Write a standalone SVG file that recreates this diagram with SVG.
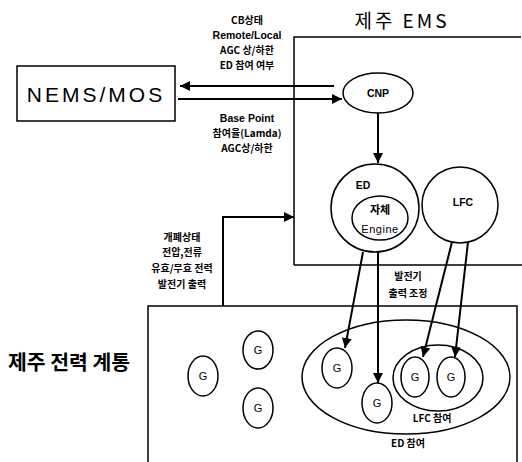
<svg xmlns="http://www.w3.org/2000/svg" width="522" height="462" viewBox="0 0 522 462">
<defs>
<marker id="ah" viewBox="0 0 10 10" refX="10" refY="5" markerWidth="10" markerHeight="10" markerUnits="userSpaceOnUse" orient="auto">
<path d="M0,0 L10,5 L0,10 z" fill="#000"/>
</marker>
</defs>
<style>
.box{fill:#fff;stroke:#000;stroke-width:1.5}
.sh{fill:none;stroke:#000;stroke-width:1.5}
.ln{fill:none;stroke:#000;stroke-width:2}
.t{font-family:"Liberation Sans","Noto Sans CJK KR",sans-serif;fill:#000;text-anchor:middle}
.s{font-size:10.5px;font-weight:bold}
.k{font-family:"Noto Sans CJK KR","Liberation Sans",sans-serif;fill:#000;text-anchor:middle;font-weight:bold;font-size:10px}
.g{font-size:11px}
</style>
<rect width="522" height="462" fill="#fff"/>

<g id="ems-box">
<path class="sh" d="M294,265 V37 H521 M294,265 H522"/>
<text class="k" x="402" y="28" style="font-size:19px;font-weight:normal" letter-spacing="3">제주 EMS</text>
</g>

<g id="power-system-box">
<path class="sh" d="M148,462 V306 H517 V462"/>
<text class="k" x="69" y="370" style="font-size:20px" textLength="122" lengthAdjust="spacingAndGlyphs">제주 전력 계통</text>
</g>

<g id="nems">
<rect class="box" x="17" y="66" width="158" height="55"/>
<text class="t" x="96" y="102" style="font-size:21px" letter-spacing="3">NEMS/MOS</text>
</g>

<g id="cnp">
<ellipse class="sh" cx="378" cy="93" rx="35" ry="20"/>
<text class="t s" x="378" y="97">CNP</text>
</g>

<g id="ed">
<circle class="sh" cx="375" cy="208" r="44"/>
<text class="t s" x="363" y="189">ED</text>
</g>

<g id="engine">
<ellipse class="sh" cx="380" cy="218" rx="28" ry="22"/>
<text class="k" x="380" y="214" style="font-size:11px">자체</text>
<text class="t" x="380" y="233" style="font-size:11px" letter-spacing="0.5">Engine</text>
</g>

<g id="lfc">
<circle class="sh" cx="460" cy="205" r="38"/>
<text class="t s" x="463" y="206">LFC</text>
</g>

<g id="g1"><ellipse class="sh" cx="203" cy="376" rx="15" ry="20"/><text class="t g" x="203" y="380">G</text></g>
<g id="g2"><ellipse class="sh" cx="258" cy="350" rx="15" ry="19"/><text class="t g" x="258" y="354">G</text></g>
<g id="g3"><ellipse class="sh" cx="258" cy="408" rx="15" ry="20"/><text class="t g" x="258" y="412">G</text></g>

<g id="ed-group">
<ellipse class="sh" cx="406" cy="377" rx="104" ry="57"/>
<text class="k" x="408" y="447">ED 참여</text>
</g>

<g id="lfc-group">
<ellipse class="sh" cx="438" cy="378" rx="45" ry="33"/>
<text class="k" x="432" y="422">LFC 참여</text>
</g>

<g id="ga"><ellipse class="sh" cx="337" cy="368" rx="15" ry="20"/><text class="t g" x="337" y="372">G</text></g>
<g id="gb"><ellipse class="sh" cx="377" cy="403" rx="15" ry="20"/><text class="t g" x="377" y="407">G</text></g>
<g id="gc"><ellipse class="sh" cx="415" cy="377" rx="14" ry="20"/><text class="t g" x="415" y="381">G</text></g>
<g id="gd"><ellipse class="sh" cx="451" cy="377" rx="14" ry="20"/><text class="t g" x="451" y="381">G</text></g>

<g id="labels">
<text class="k" x="247" y="24">CB상태</text>
<text class="t s" x="247" y="39">Remote/Local</text>
<text class="k" x="247" y="54">AGC 상/하한</text>
<text class="k" x="247" y="69">ED 참여 여부</text>
<text class="t s" x="247" y="122">Base Point</text>
<text class="k" x="247" y="137">참여율(Lamda)</text>
<text class="k" x="247" y="152">AGC상/하한</text>
<text class="k" x="182" y="241">개폐상태</text>
<text class="k" x="182" y="256">전압,전류</text>
<text class="k" x="182" y="272">유효/무효 전력</text>
<text class="k" x="182" y="288">발전기 출력</text>
<text class="k" x="408" y="280">발전기</text>
<text class="k" x="408" y="297">출력 조정</text>
</g>

<g id="connectors">
<line class="ln" x1="334" y1="86" x2="180" y2="86" marker-end="url(#ah)"/>
<line class="ln" x1="178" y1="99" x2="342" y2="99" marker-end="url(#ah)"/>
<line class="ln" x1="378" y1="113" x2="378" y2="163" marker-end="url(#ah)"/>
<polyline class="ln" points="223,306 223,217 294,217" marker-end="url(#ah)"/>
<line class="ln" x1="363" y1="252" x2="345" y2="348" marker-end="url(#ah)"/>
<line class="ln" x1="378" y1="252" x2="378" y2="383" marker-end="url(#ah)"/>
<line class="ln" x1="452" y1="242" x2="423" y2="357" marker-end="url(#ah)"/>
<line class="ln" x1="468" y1="242" x2="455" y2="357" marker-end="url(#ah)"/>
</g>
</svg>
